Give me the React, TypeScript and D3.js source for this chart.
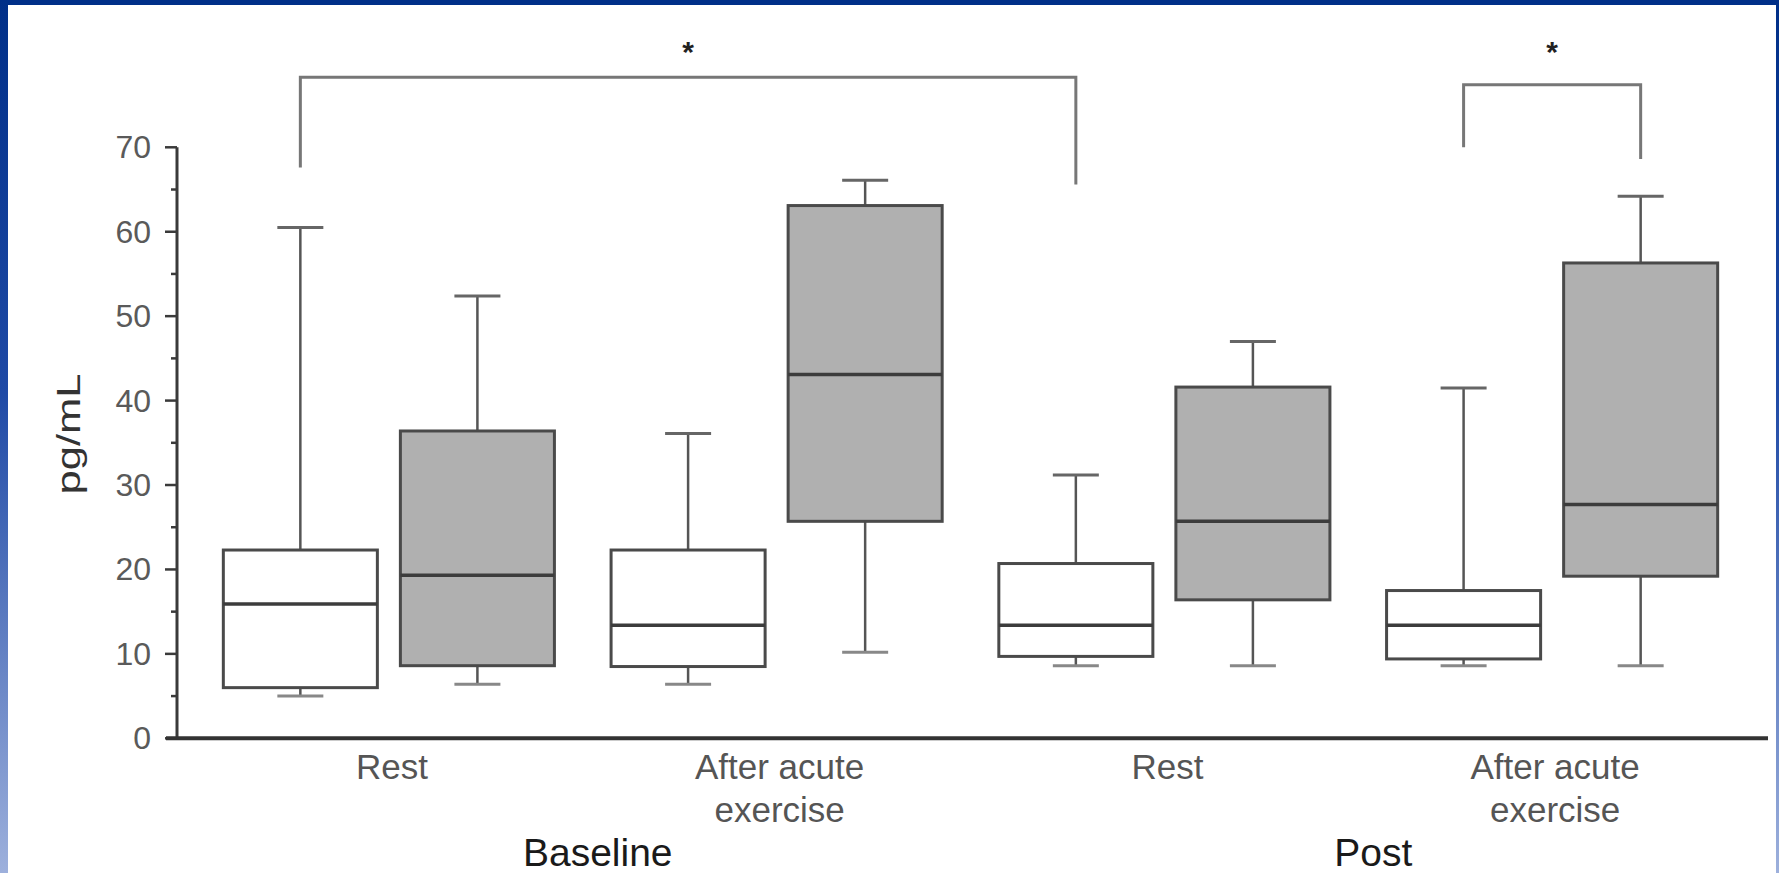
import React, { useEffect } from "react";
import * as d3 from "d3";

// ---- data ----
const categories = ["Baseline Rest", "Baseline After", "Post Rest", "Post After"];
const categoryLabels: string[][] = [["Rest"], ["After acute", "exercise"], ["Rest"], ["After acute", "exercise"]];
const groups = ["Baseline", "Post"];
const groupCategories: string[][] = [["Baseline Rest", "Baseline After"], ["Post Rest", "Post After"]];
const seriesNames = ["white", "gray"];
// [min, q1, median, q3, max]
const whiteSeries: number[][] = [
  [5.0, 6.0, 15.9, 22.3, 60.5],
  [6.4, 8.5, 13.4, 22.3, 36.1],
  [8.6, 9.7, 13.4, 20.7, 31.2],
  [8.6, 9.4, 13.4, 17.5, 41.5],
];
const graySeries: number[][] = [
  [6.4, 8.6, 19.3, 36.4, 52.4],
  [10.2, 25.7, 43.1, 63.1, 66.1],
  [8.6, 16.4, 25.7, 41.6, 47.0],
  [8.6, 19.2, 27.7, 56.3, 64.2],
];
const yTicks = [0, 10, 20, 30, 40, 50, 60, 70];
const yMinorTicks = [5, 15, 25, 35, 45, 55, 65];
const yLabel = "pg/mL";
// significance brackets: [category index, series index] pairs, values in pg/mL
const brackets = [
  { from: [0, 0], to: [2, 0], top: 78.3, leftBottom: 67.6, rightBottom: 65.6, markAt: 82, mark: "*" },
  { from: [3, 0], to: [3, 1], top: 77.4, leftBottom: 70.0, rightBottom: 68.6, markAt: 82, mark: "*" },
];

const W = 1779;
const H = 873;
const font = "'Liberation Sans', Arial, sans-serif";

export default function App() {
  useEffect(() => {
    document.body.style.margin = "0";
    document.body.style.overflow = "hidden";
  }, []);

  const axisLeft = 177;
  const axisRight = 1768;
  const x = d3.scaleBand<string>().domain(categories).range([195, 1746]).padding(0);
  const sub = d3
    .scaleBand<string>()
    .domain(seriesNames)
    .range([0, x.bandwidth()])
    .paddingInner(0.13)
    .paddingOuter(0.16);
  const y = d3.scaleLinear().domain([0, 70]).range([738.3, 147.3]);

  const bw = sub.bandwidth();
  const capW = 46;
  const boxes: { key: string; x0: number; v: number[]; fill: string }[] = [];
  categories.forEach((c, i) => {
    boxes.push({ key: c + "w", x0: (x(c) as number) + (sub("white") as number), v: whiteSeries[i], fill: "#ffffff" });
    boxes.push({ key: c + "g", x0: (x(c) as number) + (sub("gray") as number), v: graySeries[i], fill: "#b0b0b0" });
  });
  const centerOf = (ci: number, si: number) =>
    (x(categories[ci]) as number) + (sub(seriesNames[si]) as number) + bw / 2;

  return (
    <svg
      width={W}
      height={H}
      style={{ position: "absolute", left: 0, top: 0, display: "block" }}
      fontFamily={font}
    >
      <defs>
        <linearGradient id="edge" x1="0" y1="0" x2="0" y2="1">
          <stop offset="0" stopColor="#002f88" />
          <stop offset="0.45" stopColor="#1f4aa6" />
          <stop offset="1" stopColor="#9db0dc" />
        </linearGradient>
      </defs>
      <rect x={0} y={0} width={W} height={H} fill="#ffffff" />
      <rect x={0} y={0} width={W} height={5} fill="#002f88" />
      <rect x={0} y={0} width={8} height={H} fill="url(#edge)" />
      <rect x={W - 3} y={0} width={3} height={H} fill="url(#edge)" />

      {/* y axis */}
      <line x1={axisLeft} x2={axisLeft} y1={y(70)} y2={y(0)} stroke="#3a3a3a" strokeWidth={3} />
      {yTicks.map((t) => (
        <g key={"t" + t}>
          <line x1={axisLeft - 12} x2={axisLeft} y1={y(t)} y2={y(t)} stroke="#3a3a3a" strokeWidth={2.5} />
          <text
            x={151}
            y={y(t)}
            textAnchor="end"
            dominantBaseline="central"
            fontSize={32}
            fill="#5a5a5a"
          >
            {t}
          </text>
        </g>
      ))}
      {yMinorTicks.map((t) => (
        <line key={"m" + t} x1={axisLeft - 6} x2={axisLeft} y1={y(t)} y2={y(t)} stroke="#3a3a3a" strokeWidth={2.5} />
      ))}
      <text
        transform={`translate(68,434) rotate(-90) scale(1.32,1)`}
        textAnchor="middle"
        dominantBaseline="central"
        fontSize={33}
        fill="#333"
      >
        {yLabel}
      </text>

      {/* boxes */}
      {boxes.map((b) => {
        const cx = b.x0 + bw / 2;
        const [mn, q1, md, q3, mx] = b.v;
        return (
          <g key={b.key}>
            <line x1={cx} x2={cx} y1={y(q3)} y2={y(mx)} stroke="#555" strokeWidth={2.5} />
            <line x1={cx} x2={cx} y1={y(q1)} y2={y(mn)} stroke="#555" strokeWidth={2.5} />
            <line x1={cx - capW / 2} x2={cx + capW / 2} y1={y(mx)} y2={y(mx)} stroke="#666" strokeWidth={3} />
            <line x1={cx - capW / 2} x2={cx + capW / 2} y1={y(mn)} y2={y(mn)} stroke="#888" strokeWidth={3} />
            <rect
              x={b.x0}
              y={y(q3)}
              width={bw}
              height={y(q1) - y(q3)}
              fill={b.fill}
              stroke="#4a4a4a"
              strokeWidth={3}
            />
            <line x1={b.x0} x2={b.x0 + bw} y1={y(md)} y2={y(md)} stroke="#3c3c3c" strokeWidth={3.5} />
          </g>
        );
      })}

      {/* x axis */}
      <line x1={axisLeft - 11} x2={axisRight} y1={y(0)} y2={y(0)} stroke="#333" strokeWidth={4} />
      {categories.map((c, i) => {
        const cx = (x(c) as number) + x.bandwidth() / 2 + 3;
        return categoryLabels[i].map((l, j) => (
          <text
            key={c + j}
            x={cx}
            y={766 + j * 43}
            textAnchor="middle"
            dominantBaseline="central"
            fontSize={35}
            fill="#555"
          >
            {l}
          </text>
        ));
      })}
      {groups.map((g, i) => {
        const cs = groupCategories[i];
        const cx = ((x(cs[0]) as number) + (x(cs[1]) as number) + x.bandwidth()) / 2 + 15;
        return (
          <text
            key={g}
            x={cx}
            y={852}
            textAnchor="middle"
            dominantBaseline="central"
            fontSize={39}
            fill="#1a1a1a"
          >
            {g}
          </text>
        );
      })}

      {/* significance brackets */}
      {brackets.map((br, i) => {
        const x1 = centerOf(br.from[0], br.from[1]);
        const x2 = centerOf(br.to[0], br.to[1]);
        const path = d3.path();
        path.moveTo(x1, y(br.leftBottom));
        path.lineTo(x1, y(br.top));
        path.lineTo(x2, y(br.top));
        path.lineTo(x2, y(br.rightBottom));
        return (
          <g key={"b" + i}>
            <path d={path.toString()} fill="none" stroke="#777" strokeWidth={3} />
            <text
              x={(x1 + x2) / 2}
              y={y(br.markAt) + 6}
              textAnchor="middle"
              dominantBaseline="central"
              fontSize={30}
              fontWeight="bold"
              fill="#222"
            >
              {br.mark}
            </text>
          </g>
        );
      })}
    </svg>
  );
}
